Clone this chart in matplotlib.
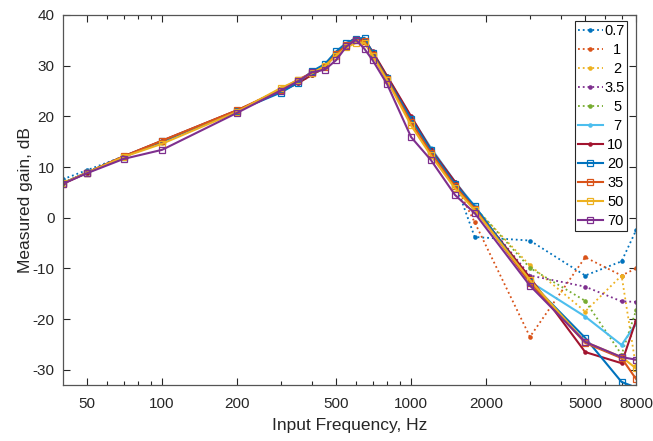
import matplotlib
matplotlib.use("Agg")
import matplotlib.pyplot as plt
from matplotlib.ticker import FixedLocator, NullFormatter

plt.rcParams['font.family'] = ['Liberation Sans', 'DejaVu Sans']
plt.rcParams['axes.unicode_minus'] = False

# Input frequencies (Hz)
freq = [40, 50, 70, 100, 200, 300, 350, 400, 450, 500, 550, 600, 650, 700,
        800, 1000, 1200, 1500, 1800, 3000, 5000, 7000, 8000]

# Measured gain (dB) for each input amplitude setting
g_0_7 = [7.6, 9.4, 12.1, 15.0, 21.0, 24.9, 26.7, 28.3, 29.9, 32.4, 34.0, 35.0, 35.0, 32.4,
         27.7, 19.6, 13.6, 7.0, -3.8, -4.5, -11.4, -8.6, -2.5]
g_1 = [6.8, 8.9, 12.1, 15.1, 21.1, 25.3, 26.9, 28.5, 30.0, 32.5, 34.1, 35.1, 34.9, 32.3,
       27.6, 19.3, 13.3, 6.8, -0.9, -23.5, -7.8, -11.4, -10.0]
g_2 = [6.9, 8.9, 12.0, 14.8, 21.0, 25.5, 27.0, 28.6, 30.1, 32.4, 34.0, 34.9, 34.7, 32.2,
       27.5, 18.9, 13.0, 6.6, 2.0, -9.4, -18.5, -11.4, -29.5]
g_3_5 = [6.8, 8.9, 12.0, 15.0, 21.1, 25.2, 26.8, 28.4, 29.9, 32.3, 34.1, 35.0, 34.8, 32.3,
         27.6, 19.2, 13.3, 6.8, 1.9, -11.4, -13.6, -16.5, -16.6]
g_5 = [6.9, 8.9, 12.1, 15.0, 21.0, 25.0, 26.6, 28.1, 29.6, 32.2, 34.0, 35.0, 34.9, 32.4,
       27.7, 19.4, 13.5, 6.9, 2.1, -9.9, -16.4, -27.0, -18.3]
g_7 = [6.8, 8.9, 12.1, 15.1, 21.1, 25.1, 26.8, 28.5, 30.0, 32.6, 34.3, 35.2, 35.1, 32.6,
       27.9, 19.8, 13.8, 7.1, 2.3, -12.6, -19.5, -25.1, -20.9]
g_10 = [6.8, 8.9, 12.1, 15.2, 21.2, 25.0, 26.5, 28.2, 29.7, 32.4, 34.3, 35.5, 35.1, 32.8,
        28.0, 20.0, 13.5, 7.1, 1.9, -11.8, -26.5, -28.7, -20.3]
g_20 = [6.8, 8.9, 12.0, 15.1, 21.1, 24.7, 26.6, 28.9, 30.3, 32.8, 34.5, 35.3, 35.5, 32.5,
        27.5, 19.5, 13.3, 6.6, 2.3, -12.6, -23.7, -32.4, -33.5]
g_35 = [6.7, 8.9, 12.1, 15.2, 21.2, 25.3, 27.2, 28.6, 29.8, 32.3, 34.0, 35.1, 34.8, 32.2,
        27.3, 18.8, 12.8, 6.2, 1.8, -12.8, -24.7, -27.7, -31.8]
g_50 = [6.8, 8.9, 12.0, 14.6, 20.9, 25.6, 27.1, 28.5, 29.9, 32.0, 33.6, 34.5, 34.5, 32.0,
        27.1, 18.2, 12.3, 5.8, 1.5, -12.3, -24.5, -27.5, -29.7]
g_70 = [6.7, 8.8, 11.6, 13.4, 20.7, 25.1, 26.9, 28.7, 29.2, 31.1, 33.8, 35.1, 33.3, 31.1,
        26.4, 15.9, 11.4, 4.5, 0.9, -13.4, -24.5, -27.5, -28.0]

labels = ['0.7', '1', '2', '3.5', '5', '7', '10', '20', '35', '50', '70']
series = [g_0_7, g_1, g_2, g_3_5, g_5, g_7, g_10, g_20, g_35, g_50, g_70]

colors = ['#0072BD', '#D95319', '#EDB120', '#7E2F8E', '#77AC30', '#4DBEEE',
          '#A2142F', '#0072BD', '#D95319', '#EDB120', '#7E2F8E']

DPI = 100
fig = plt.figure(figsize=(6.53, 4.41), dpi=DPI)
ax = fig.add_axes([0.0965, 0.127, 0.8775, 0.839])

for i, (lab, vals, c) in enumerate(zip(labels, series, colors)):
    if i < 5:
        ax.plot(freq, vals, linestyle=':', color=c, linewidth=1.3,
                marker='o', markersize=3.3, markeredgewidth=0, label=lab)
    elif i < 7:
        ax.plot(freq, vals, linestyle='-', color=c, linewidth=1.5,
                marker='o', markersize=3.3, markeredgewidth=0, label=lab)
    else:
        ax.plot(freq, vals, linestyle='-', color=c, linewidth=1.5,
                marker='s', markersize=3.8, markerfacecolor='none',
                markeredgewidth=0.9, label=lab)

ax.set_xscale('log')
ax.set_xlim(40, 8000)
ax.set_ylim(-33, 40)

xt = [50, 100, 200, 500, 1000, 2000, 5000, 8000]
ax.xaxis.set_major_locator(FixedLocator(xt))
ax.set_xticklabels([str(v) for v in xt])
ax.xaxis.set_minor_locator(FixedLocator([60, 70, 80, 90, 300, 400, 600, 700, 800, 900,
                                         3000, 4000, 6000, 7000]))
ax.xaxis.set_minor_formatter(NullFormatter())
ax.set_yticks(range(-30, 41, 10))

axis_col = '#262626'
for sp in ax.spines.values():
    sp.set_color('#555555')
    sp.set_linewidth(0.9)
ax.tick_params(which='both', direction='in', top=True, right=True,
               colors=axis_col, labelsize=11, width=0.8)
ax.tick_params(which='major', length=5, pad=6)
ax.tick_params(axis='x', which='major', pad=9)
ax.tick_params(which='minor', length=3)

ax.set_xlabel('Input Frequency, Hz', fontsize=12.5, color=axis_col, labelpad=5)
ax.set_ylabel('Measured gain, dB', fontsize=12.5, color=axis_col, labelpad=0)

leg = ax.legend(loc='upper right', bbox_to_anchor=(0.985, 0.983), borderaxespad=0,
                fontsize=10.5, handlelength=1.7, handletextpad=0.1,
                labelspacing=0.34, borderpad=0.2, fancybox=False, framealpha=1,
                edgecolor='#262626')
leg.get_frame().set_linewidth(0.8)

# right-align legend labels inside their column (offsets are in points)
fig.canvas.draw()
renderer = fig.canvas.get_renderer()
widths = [t.get_window_extent(renderer).width for t in leg.get_texts()]
w_max = max(widths)
for t, w in zip(leg.get_texts(), widths):
    t.set_position(((w_max - w) * 72.0 / DPI, 0))

fig.savefig('out.png', dpi=DPI)
